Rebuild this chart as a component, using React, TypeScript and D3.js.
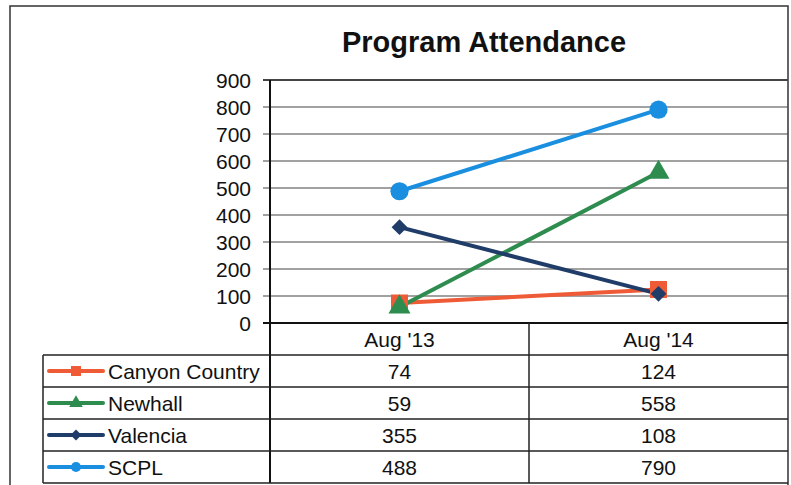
import * as d3 from "d3";

const categories = ["Aug '13", "Aug '14"];
const seriesNames = ["Canyon Country", "Newhall", "Valencia", "SCPL"];
const canyonCountry = [74, 124];
const newhall = [59, 558];
const valencia = [355, 108];
const scpl = [488, 790];
const yTicks = [0, 100, 200, 300, 400, 500, 600, 700, 800, 900];

const COLORS = ["#ef5b36", "#2e8c4f", "#1f3d68", "#1a8fe0"];
// diamond is drawn as a square rotated 45deg (Excel style)
const SYMBOLS = [d3.symbolSquare, d3.symbolTriangle, d3.symbolSquare, d3.symbolCircle];
const ROTATE = [0, 0, 45, 0];
const FONT = "'Liberation Sans', Arial, sans-serif";

const W = 791;
const H = 485;
const PLOT = { left: 270, right: 788, top: 80, bottom: 323 };
const TABLE_LEFT = 43;
const TABLE_BOTTOM = 483;

export default function App() {
  const values = [canyonCountry, newhall, valencia, scpl];

  const x = d3
    .scaleBand<string>()
    .domain(categories)
    .range([PLOT.left, PLOT.right]);
  const xc = (c: string) => (x(c) ?? 0) + x.bandwidth() / 2;

  const y = d3.scaleLinear().domain([0, 900]).range([PLOT.bottom, PLOT.top]);

  const rows = d3
    .scaleBand<string>()
    .domain(seriesNames)
    .range([355, TABLE_BOTTOM]);

  const line = d3
    .line<number>()
    .x((_, i) => xc(categories[i]))
    .y((d) => y(d));

  // chart marker sizes (area) and legend marker sizes
  const markerSize = [290, 210, 125, 260];
  const legendSize = [100, 80, 60, 80];

  return (
    <svg
      width={W}
      height={H}
      style={{ position: "absolute", left: 0, top: 0, background: "#fff" }}
      fontFamily={FONT}
    >
      {/* outer frame */}
      <path
        d={`M10,${H} L10,6 L788,6 L788,${H}`}
        fill="none"
        stroke="#333"
        strokeWidth={1.5}
      />

      <text
        x={484}
        y={52}
        textAnchor="middle"
        fontSize={29}
        fontWeight="bold"
        fill="#111"
      >
        Program Attendance
      </text>

      {/* gridlines + y ticks */}
      {yTicks.map((t) => (
        <g key={t}>
          <line
            x1={263}
            x2={PLOT.right}
            y1={y(t)}
            y2={y(t)}
            stroke={t === 0 ? "#111" : "#444"}
            strokeWidth={t === 0 || t === 900 ? 2 : 1.2}
          />
          <text
            x={251}
            y={y(t)}
            dy="0.36em"
            textAnchor="end"
            fontSize={21}
            fill="#111"
          >
            {t}
          </text>
        </g>
      ))}
      <line
        x1={PLOT.left}
        x2={PLOT.left}
        y1={PLOT.top}
        y2={TABLE_BOTTOM}
        stroke="#111"
        strokeWidth={2}
      />

      {/* series lines */}
      {values.map((v, i) => (
        <path
          key={"l" + i}
          d={line(v) ?? ""}
          fill="none"
          stroke={COLORS[i]}
          strokeWidth={4}
        />
      ))}
      {/* markers */}
      {values.map((v, i) =>
        v.map((d, j) => (
          <path
            key={`m${i}-${j}`}
            d={d3.symbol(SYMBOLS[i], markerSize[i])() ?? ""}
            transform={`translate(${xc(categories[j])},${y(d)}) rotate(${ROTATE[i]})`}
            fill={COLORS[i]}
          />
        ))
      )}

      {/* data table */}
      <line x1={529} x2={529} y1={PLOT.bottom} y2={TABLE_BOTTOM} stroke="#222" strokeWidth={1.5} />
      <line x1={TABLE_LEFT} x2={TABLE_LEFT} y1={355} y2={TABLE_BOTTOM} stroke="#222" strokeWidth={1.5} />
      {categories.map((c) => (
        <text key={c} x={xc(c)} y={339} dy="0.36em" textAnchor="middle" fontSize={21} fill="#111">
          {c}
        </text>
      ))}
      {seriesNames.map((s, i) => {
        const top = rows(s) ?? 0;
        const mid = top + rows.bandwidth() / 2;
        return (
          <g key={s}>
            <line x1={TABLE_LEFT} x2={PLOT.right} y1={top} y2={top} stroke="#222" strokeWidth={1.5} />
            <line x1={49} x2={103} y1={mid} y2={mid} stroke={COLORS[i]} strokeWidth={4} strokeLinecap="round" />
            <path
              d={d3.symbol(SYMBOLS[i], legendSize[i])() ?? ""}
              transform={`translate(76,${mid}) rotate(${ROTATE[i]})`}
              fill={COLORS[i]}
            />
            <text x={108} y={mid} dy="0.36em" fontSize={21} fill="#111">
              {s}
            </text>
            {values[i].map((v, j) => (
              <text
                key={j}
                x={xc(categories[j])}
                y={mid}
                dy="0.36em"
                textAnchor="middle"
                fontSize={21}
                fill="#111"
              >
                {v}
              </text>
            ))}
          </g>
        );
      })}
      <line x1={TABLE_LEFT} x2={PLOT.right} y1={TABLE_BOTTOM} y2={TABLE_BOTTOM} stroke="#222" strokeWidth={1.5} />
    </svg>
  );
}
